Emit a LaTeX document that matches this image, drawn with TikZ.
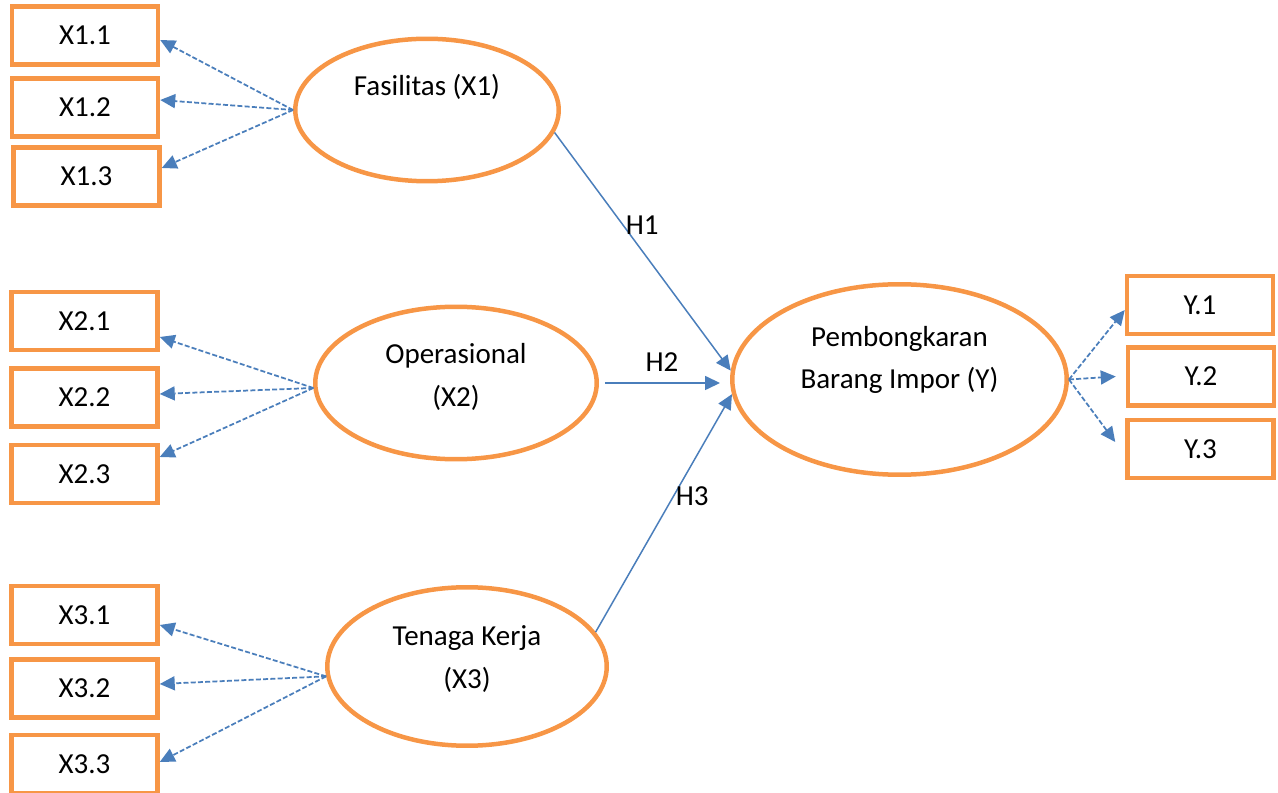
\documentclass[tikz,border=0pt]{standalone}
\usepackage{fontspec}
\setmainfont{Carlito}
\usepackage{tikz}
\usetikzlibrary{arrows.meta,positioning,shapes.geometric,calc}
\definecolor{boxorange}{HTML}{F79646}
\definecolor{pathblue}{HTML}{4A7EBB}

\tikzset{
  indicator/.style={draw=boxorange, line width=0.09cm, minimum width=2.92cm,
                    minimum height=1.16cm, inner sep=0pt},
  latent/.style={ellipse, draw=boxorange, line width=0.09cm, inner sep=0pt},
  loading/.style={pathblue, line width=0.035cm, dash pattern=on 0.1cm off 0.045cm,
                  -{Triangle[length=0.3cm,width=0.28cm]}},
  hypo/.style={pathblue, line width=0.03cm, -{Triangle[length=0.3cm,width=0.28cm]}},
  hlabel/.style={text=black},
  lbl/.style={align=center}
}

\begin{document}
\begin{tikzpicture}[x=0.02cm, y=-0.02cm,
    every node/.append style={font=\fontsize{16.5}{24}\selectfont}]
  \useasboundingbox (0,0) rectangle (1278,793);

  % Indicator boxes
  \node[indicator] (x11) at (85,35.5)   {X1.1};
  \node[indicator] (x12) at (85,107.5)  {X1.2};
  \node[indicator] (x13) at (86.5,176.5){X1.3};
  \node[indicator] (x21) at (84.5,321)  {X2.1};
  \node[indicator] (x22) at (84.5,397.5){X2.2};
  \node[indicator] (x23) at (84.5,474)  {X2.3};
  \node[indicator] (x31) at (84.5,615)  {X3.1};
  \node[indicator] (x32) at (84.5,688.5){X3.2};
  \node[indicator] (x33) at (84.5,764)  {X3.3};
  \node[indicator] (y1) at (1200,305)   {Y.1};
  \node[indicator] (y2) at (1201,376.5) {Y.2};
  \node[indicator] (y3) at (1200.5,449) {Y.3};

  % Latent variables
  \node[latent, minimum width=5.27cm, minimum height=2.85cm] (x1) at (427,110) {};
  \node[latent, minimum width=5.63cm, minimum height=3.05cm] (x2) at (456,383) {};
  \node[latent, minimum width=5.59cm, minimum height=3.17cm] (x3) at (467,666.5) {};
  \node[latent, minimum width=6.69cm, minimum height=3.81cm] (y) at (899.5,379.5) {};

  \node[lbl] (x1t) at ([yshift=0.46cm]x1.center) {Fasilitas (X1)};
  \node[lbl] (x2t) at ([yshift=0.12cm]x2.center) {Operasional\\(X2)};
  \node[lbl] (x3t) at ([yshift=0.15cm]x3.center) {Tenaga Kerja\\(X3)};
  \node[lbl] (yt) at ([yshift=0.39cm]y.center) {Pembongkaran\\Barang Impor (Y)};

  % Loadings
  \foreach \b/\d in {x11/4.5, x12/-7.5, x13/-8.5}
    \draw[loading] (x1.west) -- ($(\b.east)+(0,\d)$);
  \foreach \b/\d in {x21/16, x22/-3.5, x23/-17}
    \draw[loading] (x2.182) -- ($(\b.east)+(0,\d)$);
  \foreach \b/\d in {x31/10, x32/-4.5, x33/-2}
    \draw[loading] (x3.184) -- ($(\b.east)+(0,\d)$);
  \draw[loading] (y.east) -- ($(y1.west)+(0,5)$);
  \draw[loading] (y.east) -- ($(y2.west)+(-10,0)$);
  \draw[loading] (y.east) -- ($(y3.west)+(-10,-7)$);

  % Hypotheses
  \draw[hypo] (x1.-10) -- node[hlabel, pos=0.39, right, inner sep=1pt] (h1) {H1} (y.177);
  \draw[hypo, shorten <=0.12cm, shorten >=0.2cm] (x2.east)
    -- node[hlabel, pos=0.48, above=3pt] (h2) {H2} (x2.east -| y.west);
  \draw[hypo] (x3.15) -- node[hlabel, pos=0.57, right, inner sep=1pt] (h3) {H3} (y.185);
\end{tikzpicture}
\end{document}
